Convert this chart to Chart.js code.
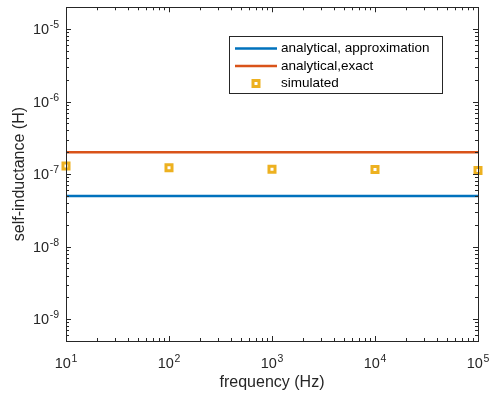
<!DOCTYPE html>
<html>
<head>
<meta charset="utf-8">
<script src="https://cdn.jsdelivr.net/npm/chart.js@4.4.0/dist/chart.umd.min.js"></script>
<style>
  html, body { margin: 0; background: #fff; }
  #wrap { width: 491px; height: 396px; }
</style>
</head>
<body>
<div id="wrap"><canvas id="inductance-chart"></canvas></div>
<script>
const frequency = [10, 100, 1000, 10000, 100000];
const approxL = [5e-8, 5e-8, 5e-8, 5e-8, 5e-8];
const exactL = [2e-7, 2e-7, 2e-7, 2e-7, 2e-7];
const simulatedL = [1.29e-7, 1.22e-7, 1.17e-7, 1.16e-7, 1.12e-7];
const seriesNames = ["analytical, approximation", "analytical,exact", "simulated"];
const xRange = [10, 1e5];
const yRange = [5e-10, 2e-5];

const axisColor = "#262626";
const fontFamily = "'Liberation Sans', Arial, sans-serif";
const baseFont = "14.5px " + fontFamily;
const supFont = "10.5px " + fontFamily;

function pow10Exp(v) {
  const e = Math.round(Math.log10(v));
  return Math.abs(v / Math.pow(10, e) - 1) < 1e-6 ? e : null;
}
// decade ticks plus 2..9 minor ticks inside [min, max]
function logTicks(scale) {
  const out = [];
  const lo = Math.floor(Math.log10(scale.min)), hi = Math.ceil(Math.log10(scale.max));
  for (let e = lo; e <= hi; e++) {
    for (let m = 1; m < 10; m++) {
      const v = m * Math.pow(10, e);
      if (v >= scale.min * 0.9999 && v <= scale.max * 1.0001) out.push({ value: v, major: m === 1 });
    }
  }
  scale.ticks = out;
}
function noLabelPadding(scale) {
  scale.paddingLeft = scale.paddingRight = scale.paddingTop = scale.paddingBottom = 0;
}
const toPoints = ys => frequency.map((f, i) => ({ x: f, y: ys[i] }));

// box around the plot, inward tick marks on all four sides, 10^n labels
const boxTicks = {
  id: "boxTicks",
  afterDraw(chart) {
    const { ctx, chartArea: a, scales } = chart;
    ctx.save();
    ctx.strokeStyle = axisColor;
    ctx.lineWidth = 1;
    ctx.beginPath();
    scales.x.ticks.forEach(t => {
      const px = Math.round(scales.x.getPixelForValue(t.value)) + 0.5;
      const len = t.major ? 5 : 3;
      ctx.moveTo(px, a.bottom); ctx.lineTo(px, a.bottom - len);
      ctx.moveTo(px, a.top); ctx.lineTo(px, a.top + len);
    });
    scales.y.ticks.forEach(t => {
      const py = Math.round(scales.y.getPixelForValue(t.value)) + 0.5;
      const len = t.major ? 5 : 3;
      ctx.moveTo(a.left, py); ctx.lineTo(a.left + len, py);
      ctx.moveTo(a.right, py); ctx.lineTo(a.right - len, py);
    });
    ctx.stroke();
    ctx.strokeRect(Math.round(a.left) + 0.5, Math.round(a.top) + 0.5,
      Math.round(a.right - a.left), Math.round(a.bottom - a.top));

    ctx.fillStyle = axisColor;
    ctx.textBaseline = "alphabetic";
    ctx.textAlign = "left";
    const label = (x, y, e) => {
      ctx.font = baseFont;
      ctx.fillText("10", x, y);
      const bw = ctx.measureText("10").width;
      ctx.font = supFont;
      ctx.fillText(String(e), x + bw + 0.5, y - 6);
    };
    const widths = e => {
      ctx.font = baseFont;
      const bw = ctx.measureText("10").width;
      ctx.font = supFont;
      return bw + 0.5 + ctx.measureText(String(e)).width;
    };
    scales.x.ticks.forEach(t => {
      const e = pow10Exp(t.value);
      if (e === null) return;
      const px = scales.x.getPixelForValue(t.value);
      label(px - widths(e) / 2, a.bottom + 27, e);
    });
    scales.y.ticks.forEach(t => {
      const e = pow10Exp(t.value);
      if (e === null) return;
      const py = scales.y.getPixelForValue(t.value);
      label(a.left - 7 - widths(e), py + 5, e);
    });
    ctx.restore();
  }
};

// legend box in the upper right of the plot
const boxLegend = {
  id: "boxLegend",
  afterDraw(chart) {
    const { ctx } = chart;
    const x0 = 229, y0 = 36, w = 213, h = 57, rowH = 17.5;
    ctx.save();
    ctx.fillStyle = "#fff";
    ctx.fillRect(x0, y0, w, h);
    ctx.strokeStyle = axisColor;
    ctx.lineWidth = 1;
    ctx.strokeRect(x0 + 0.5, y0 + 0.5, w, h);
    ctx.font = "13.5px " + fontFamily;
    ctx.textBaseline = "middle";
    chart.data.datasets.forEach((ds, i) => {
      const cy = y0 + 12.5 + i * rowH;
      if (ds.showLine) {
        ctx.strokeStyle = ds.borderColor;
        ctx.lineWidth = ds.borderWidth;
        ctx.beginPath();
        ctx.moveTo(x0 + 6, cy); ctx.lineTo(x0 + 48, cy);
        ctx.stroke();
      } else {
        ctx.strokeStyle = ds.pointBorderColor;
        ctx.lineWidth = ds.pointBorderWidth;
        ctx.strokeRect(x0 + 24, cy - 3, 6, 6);
      }
      ctx.fillStyle = "#000";
      ctx.fillText(ds.label, x0 + 52, cy);
    });
    ctx.restore();
  }
};

new Chart(document.getElementById("inductance-chart"), {
  type: "scatter",
  data: {
    datasets: [{
      label: seriesNames[0],
      data: toPoints(approxL),
      showLine: true,
      borderColor: "#0072BD",
      borderWidth: 2.5,
      pointRadius: 0
    }, {
      label: seriesNames[1],
      data: toPoints(exactL),
      showLine: true,
      borderColor: "#D95319",
      borderWidth: 2.5,
      pointRadius: 0
    }, {
      label: seriesNames[2],
      data: toPoints(simulatedL),
      showLine: false,
      clip: false,
      pointStyle: "rect",
      pointRadius: 4.25,
      pointBorderWidth: 3,
      pointBorderColor: "#EDB120",
      pointBackgroundColor: "#fff"
    }]
  },
  options: {
    responsive: true,
    maintainAspectRatio: false,
    animation: false,
    layout: { padding: { top: 6, right: 13, left: 0, bottom: 0 } },
    plugins: { legend: { display: false }, tooltip: { enabled: false } },
    scales: {
      x: {
        type: "logarithmic",
        min: xRange[0],
        max: xRange[1],
        afterBuildTicks: logTicks,
        afterFit: s => { s.height = 55; noLabelPadding(s); },
        grid: { display: false, drawTicks: false },
        border: { display: false },
        ticks: { display: false, autoSkip: false },
        title: {
          display: true, text: "frequency (Hz)", color: axisColor,
          font: { family: fontFamily, size: 16 }, padding: { top: 0, bottom: 4 }
        }
      },
      y: {
        type: "logarithmic",
        min: yRange[0],
        max: yRange[1],
        afterBuildTicks: logTicks,
        afterFit: s => { s.width = 66; noLabelPadding(s); },
        grid: { display: false, drawTicks: false },
        border: { display: false },
        ticks: { display: false, autoSkip: false },
        title: {
          display: true, text: "self-inductance (H)", color: axisColor,
          font: { family: fontFamily, size: 16 }, padding: { top: 10, bottom: 0 }
        }
      }
    }
  },
  plugins: [boxTicks, boxLegend]
});
</script>
</body>
</html>
